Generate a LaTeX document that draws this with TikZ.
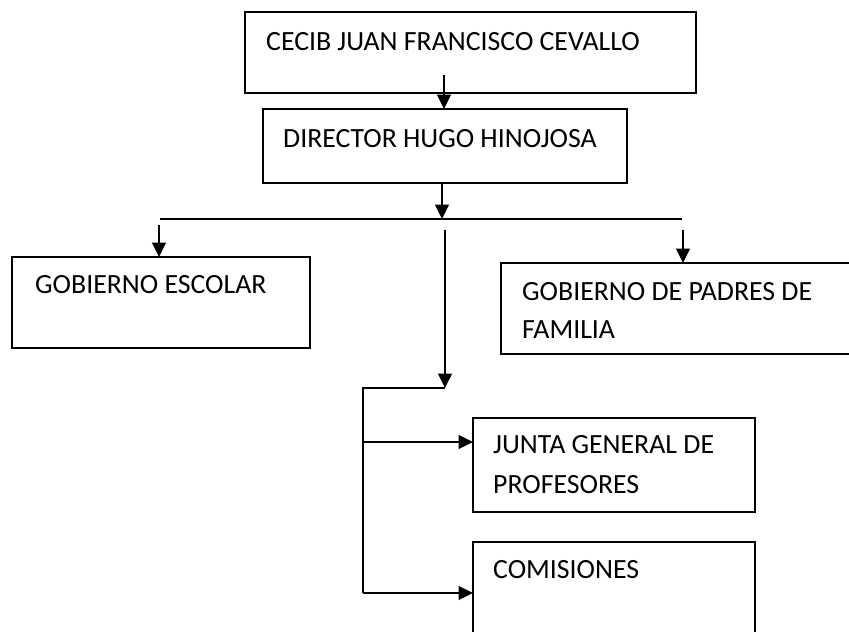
\documentclass[tikz,border=0pt]{standalone}
\usepackage{fontspec}
\setmainfont{Carlito}
\usetikzlibrary{arrows.meta}
\begin{document}
\begin{tikzpicture}[x=1pt,y=-1pt,
  box/.style={draw=black,line width=1.7pt,anchor=north west,inner sep=0pt,outer sep=0pt},
  txt/.style={anchor=base west,inner sep=0pt,font=\fontsize{27.8}{32}\selectfont},
  conn/.style={line width=1.7pt},
  arr/.style={line width=1.7pt,-{Triangle[length=14.5pt,width=14pt]}}]
\useasboundingbox (0,0) rectangle (849,632);
\clip (0,0) rectangle (849,632);
% boxes
\node[box,minimum width=451pt,minimum height=81pt] (b1) at (245,12) {};
\node[box,minimum width=364pt,minimum height=74pt] (b2) at (263,109) {};
\node[box,minimum width=298pt,minimum height=91pt] (ge) at (12,257) {};
\node[box,minimum width=360pt,minimum height=91pt] (gp) at (501,263) {};
\node[box,minimum width=282pt,minimum height=94pt] (jg) at (473,418) {};
\node[box,minimum width=282pt,minimum height=110pt] (co) at (473,542) {};
% texts
\node[txt] (t1) at (266,50) {CECIB JUAN FRANCISCO CEVALLO};
\node[txt] (t2) at (283,147) {DIRECTOR HUGO HINOJOSA};
\node[txt] (t3) at (35,293) {GOBIERNO ESCOLAR};
\node[txt] (t4a) at (522,300) {GOBIERNO DE PADRES DE};
\node[txt] (t4b) at (522,338) {FAMILIA};
\node[txt] (t5a) at (493,453) {JUNTA GENERAL DE};
\node[txt] (t5b) at (493,493) {PROFESORES};
\node[txt] (t6) at (493,578) {COMISIONES};
% connector points
\coordinate (a1) at (444,75);
\coordinate (a2) at (442,183);
\coordinate (busL) at (160,219);
\coordinate (busR) at (682,219);
\coordinate (lA) at (159,225);
\coordinate (rA) at (683,230);
\coordinate (cA) at (445,230);
\coordinate (cB) at (445,388);
\coordinate (k1) at (363,388);
\coordinate (k2) at (363,442);
\coordinate (k3) at (363,593);
% connectors
\draw[arr] (a1) -- (a1 |- b2.north);
\draw[arr] (a2) -- (a2 |- busL);
\draw[conn] (busL) -- (busR);
\draw[arr] (lA) -- (lA |- ge.north);
\draw[arr] (rA) -- (rA |- gp.north);
\draw[arr] (cA) -- (cB);
\draw[conn] (cB) -- (k1) -- (k3);
\draw[arr] (k2) -- (k2 -| jg.west);
\draw[arr] (k3) -- (k3 -| co.west);
\end{tikzpicture}
\end{document}
